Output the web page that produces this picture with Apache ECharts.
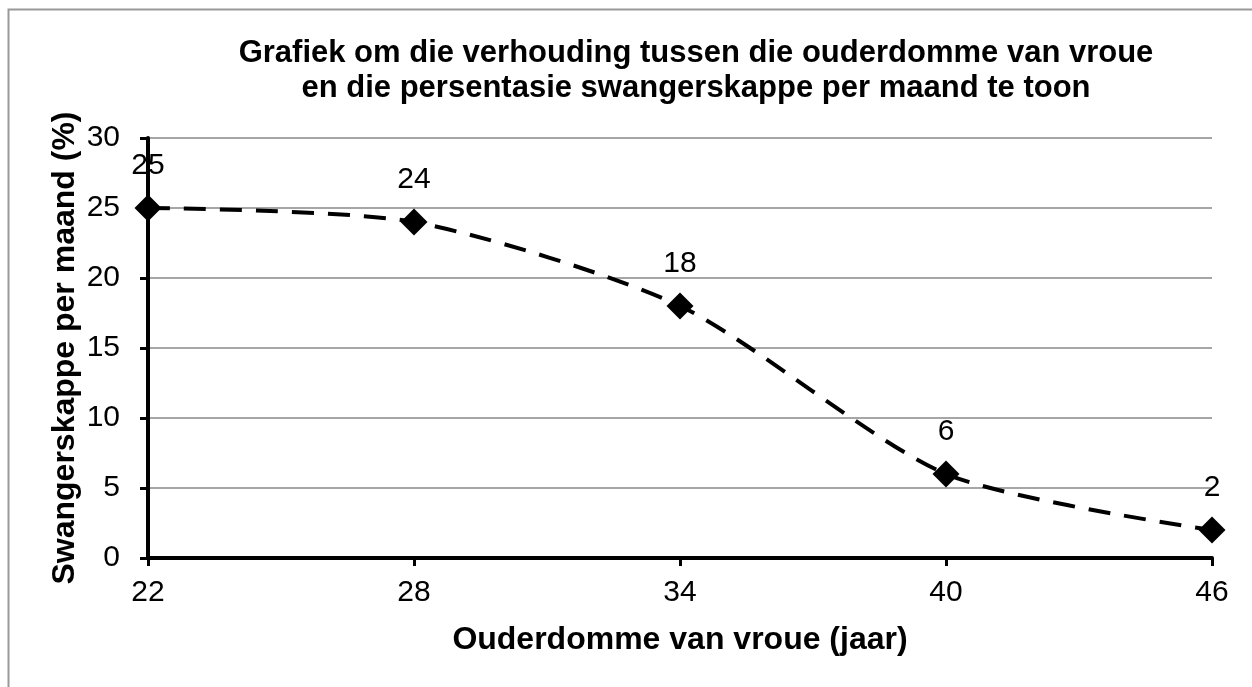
<!DOCTYPE html>
<html lang="af">
<head>
<meta charset="UTF-8">
<title>Grafiek</title>
<script src="https://cdn.jsdelivr.net/npm/echarts@6/dist/echarts.min.js"></script>
<style>
  html, body { margin: 0; padding: 0; background: #fff; }
  #chart { width: 1252px; height: 687px; }
</style>
</head>
<body>
<div id="chart"></div>
<script type="text/javascript">
  // data
  var ages = [22, 28, 34, 40, 46];
  var pregnancyPct = [25, 24, 18, 6, 2];
  var yTicks = [0, 5, 10, 15, 20, 25, 30];

  var font = 'Liberation Sans, Arial, sans-serif';
  var points = ages.map(function (a, i) { return [a, pregnancyPct[i]]; });

  var myChart = echarts.init(document.getElementById('chart'));
  myChart.setOption({
    backgroundColor: '#fff',
    animation: false,
    title: {
      text: 'Grafiek om die verhouding tussen die ouderdomme van vroue\nen die persentasie swangerskappe per maand te toon',
      left: 691,
      top: 31,
      textAlign: 'center',
      textStyle: { fontFamily: font, fontSize: 31, fontWeight: 'bold', color: '#000', lineHeight: 35 }
    },
    graphic: [{
      type: 'rect',
      shape: { x: 8.5, y: 9.5, width: 1260, height: 700 },
      style: { fill: 'none', stroke: '#999', lineWidth: 2 },
      silent: true
    }],
    grid: { left: 148, right: 40, top: 138, bottom: 129 },
    xAxis: {
      type: 'value',
      min: ages[0],
      max: ages[ages.length - 1],
      interval: 6,
      name: 'Ouderdomme van vroue (jaar)',
      nameLocation: 'middle',
      nameGap: 66,
      nameTextStyle: { fontFamily: font, fontSize: 32, fontWeight: 'bold', color: '#000' },
      axisLine: { lineStyle: { color: '#000', width: 4 } },
      axisTick: { show: true, length: 8, lineStyle: { color: '#000', width: 3 } },
      axisLabel: { fontFamily: font, fontSize: 30, color: '#000', margin: 20 },
      splitLine: { show: false }
    },
    yAxis: {
      type: 'value',
      min: yTicks[0],
      max: yTicks[yTicks.length - 1],
      interval: 5,
      name: 'Swangerskappe per maand (%)',
      nameLocation: 'middle',
      nameGap: 67,
      nameMoveOverlap: false,
      nameTextStyle: { fontFamily: font, fontSize: 32, fontWeight: 'bold', color: '#000' },
      axisLine: { show: true, lineStyle: { color: '#000', width: 4 } },
      axisTick: { show: true, length: 8, lineStyle: { color: '#000', width: 3 } },
      axisLabel: { fontFamily: font, fontSize: 30, color: '#000', margin: 28 },
      splitLine: { show: true, lineStyle: { color: '#888', width: 1.5 } }
    },
    series: [{
      type: 'line',
      data: points,
      smooth: 0.25,
      symbol: 'diamond',
      symbolSize: 27,
      itemStyle: { color: '#000' },
      lineStyle: { color: '#000', width: 4, type: [22, 14] },
      label: {
        show: true,
        position: 'top',
        distance: 14,
        fontFamily: font,
        fontSize: 30,
        color: '#000'
      },
      z: 5
    }]
  });
</script>
</body>
</html>
